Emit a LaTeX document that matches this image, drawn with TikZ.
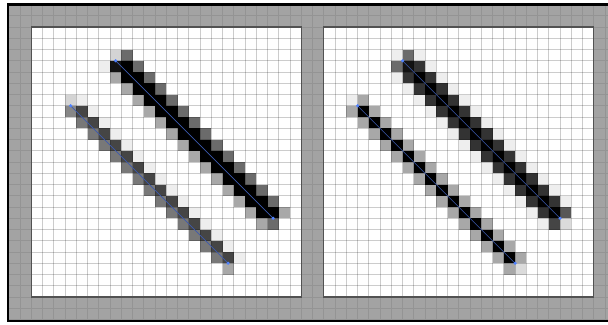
\documentclass[tikz,border=0pt]{standalone}
\definecolor{bggray}{gray}{0.64}
\definecolor{ggridc}{gray}{0.58}
\definecolor{pgridc}{gray}{0.8}
\definecolor{pborderc}{gray}{0.32}
\definecolor{cD3}{gray}{0.83}
\definecolor{cEE}{gray}{0.935}
\definecolor{cDD}{gray}{0.86}
\definecolor{c66}{gray}{0.42}
\definecolor{c55}{gray}{0.34}
\definecolor{c11}{gray}{0.07}
\definecolor{c00}{gray}{0.0}
\definecolor{cA8}{gray}{0.66}
\definecolor{c88}{gray}{0.53}
\definecolor{c77}{gray}{0.47}
\definecolor{c44}{gray}{0.27}
\definecolor{c33}{gray}{0.2}
\definecolor{bluel}{RGB}{60,90,175}
\definecolor{blued}{RGB}{80,130,255}
\newcommand\pxcell[3]{\fill[#3] ({#1},{#2}) rectangle ++(1,1);}
\begin{document}
\begin{tikzpicture}[x=11.25pt,y=-11.25pt,
  ggrid/.style={draw=ggridc,line width=0.8pt},
  pgrid/.style={draw=pgridc,line width=0.85pt},
  pborder/.style={draw=pborderc,line width=1.1pt},
  blueline/.style={draw=bluel,line width=0.6pt},
  bluedot/.style={fill=blued}]
\useasboundingbox (-2.782,-2.4) rectangle (51.262,26.4);
\fill[white] (-2.782,-2.4) rectangle (51.262,26.4);
% gray background with faint grid
\fill[bggray] (-1.98,-1.89) rectangle (51.4,26.04);
\begin{scope}
\clip (-1.98,-1.89) rectangle (51.4,26.04);
\foreach \i in {-1,...,51} {\draw[ggrid] (\i,-1.89) -- (\i,26.04);}
\foreach \j in {-1,...,26} {\draw[ggrid] (-1.98,\j) -- (51.4,\j);}
\end{scope}
% panels
\fill[white] (0,0) rectangle (24,24);
\fill[white] (26,0) rectangle (50,24);
% ---- left panel, upper line
\pxcell{7}{2}{cD3}\pxcell{8}{2}{c66}
\pxcell{6}{3}{cEE}\pxcell{7}{3}{c11}\pxcell{8}{3}{c00}\pxcell{9}{3}{c66}
\foreach \r in {4,...,15} {\pxcell{\r+3}{\r}{cA8}\pxcell{\r+4}{\r}{c00}\pxcell{\r+5}{\r}{c00}\pxcell{\r+6}{\r}{c66}}
\pxcell{19}{16}{cA8}\pxcell{20}{16}{c00}\pxcell{21}{16}{c00}\pxcell{22}{16}{cA8}
\pxcell{20}{17}{cA8}\pxcell{21}{17}{c66}
% ---- left panel, lower line
\pxcell{3}{6}{cD3}\pxcell{4}{6}{cEE}
\pxcell{3}{7}{c88}\pxcell{4}{7}{c44}\pxcell{5}{7}{cEE}
\foreach \r in {8,...,20} {\pxcell{\r-4}{\r}{c77}\pxcell{\r-3}{\r}{c44}\pxcell{\r-2}{\r}{cEE}}
\pxcell{17}{21}{cA8}
% ---- right panel, upper line
\pxcell{32}{2}{cEE}\pxcell{33}{2}{c66}\pxcell{34}{2}{cEE}
\pxcell{32}{3}{c66}\pxcell{33}{3}{c11}\pxcell{34}{3}{c33}\pxcell{35}{3}{cEE}
\foreach \r in {4,...,15} {\pxcell{\r+28}{\r}{cEE}\pxcell{\r+29}{\r}{c33}\pxcell{\r+30}{\r}{c00}\pxcell{\r+31}{\r}{c33}\pxcell{\r+32}{\r}{cEE}}
\pxcell{44}{16}{cEE}\pxcell{45}{16}{c33}\pxcell{46}{16}{c00}\pxcell{47}{16}{c55}
\pxcell{45}{17}{cEE}\pxcell{46}{17}{c44}\pxcell{47}{17}{cDD}
% ---- right panel, lower line
\pxcell{28}{6}{cEE}\pxcell{29}{6}{cA8}
\foreach \r in {7,...,20} {\pxcell{\r+21}{\r}{cA8}\pxcell{\r+22}{\r}{c00}\pxcell{\r+23}{\r}{cA8}}
\pxcell{42}{21}{cA8}\pxcell{43}{21}{cDD}
% panel grids
\begin{scope}[blend mode=multiply]
\foreach \i in {1,...,23} {
  \draw[pgrid] (\i,0) -- (\i,24);
  \draw[pgrid] (0,\i) -- (24,\i);
  \draw[pgrid] (\i+26,0) -- (\i+26,24);
  \draw[pgrid] (26,\i) -- (50,\i);
}
\end{scope}
\draw[pborder] (0,0) rectangle (24,24);
\draw[pborder] (26,0) rectangle (50,24);
% blue guide lines
\coordinate (LA1) at (7.5,3);  \coordinate (LA2) at (21.5,17);
\coordinate (LB1) at (3.5,7);  \coordinate (LB2) at (17.5,21);
\coordinate (RA1) at (33,3);   \coordinate (RA2) at (47,17);
\coordinate (RB1) at (29,7);   \coordinate (RB2) at (43,21);
\draw[blueline] (LA1) -- (LA2);
\draw[blueline] (LB1) -- (LB2);
\draw[blueline] (RA1) -- (RA2);
\draw[blueline] (RB1) -- (RB2);
\foreach \p in {LA1,LA2,LB1,LB2,RA1,RA2,RB1,RB2} {\fill[bluedot] (\p) circle (1.7pt);}
% black frame
\draw[line width=2.6pt] (53,-2.02) -- (-2.071,-2.02) -- (-2.071,26.13) -- (53,26.13);
\end{tikzpicture}
\end{document}
